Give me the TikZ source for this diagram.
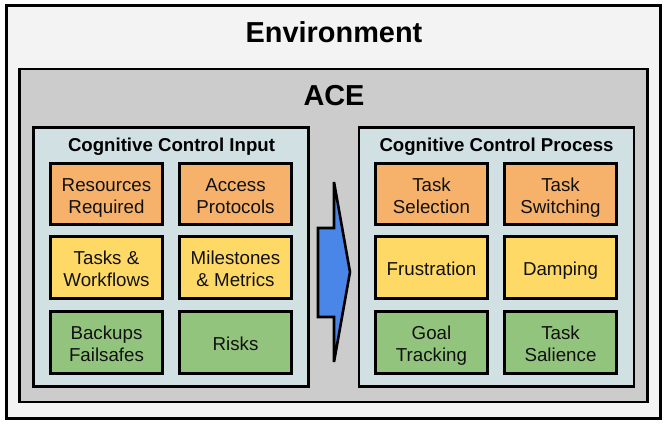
\documentclass[tikz,border=0pt]{standalone}
\usepackage{fontspec}
\setmainfont{Liberation Sans}
\definecolor{envc}{HTML}{F3F3F3}
\definecolor{acec}{HTML}{CCCCCC}
\definecolor{panelc}{HTML}{D0E0E3}
\definecolor{orangec}{HTML}{F6B26B}
\definecolor{yellowc}{HTML}{FFD966}
\definecolor{greenc}{HTML}{93C47D}
\definecolor{arrowc}{HTML}{4A86E8}
\definecolor{textc}{HTML}{111111}
\newcommand{\celltwo}[2]{\rule{0pt}{21bp}#1\\#2\rule[-4.5bp]{0pt}{4.5bp}}
\newcommand{\cellone}[1]{\rule[-4.5bp]{0pt}{25.5bp}#1}
\begin{document}
\begin{tikzpicture}[x=1bp,y=-1bp,
  frame/.style={draw=black, line width=2.9bp, inner sep=0pt},
  cell/.style={frame, minimum width=112bp, minimum height=61.5bp, align=center,
    text=textc, font=\fontsize{18.8}{22}\selectfont},
  orangecell/.style={cell, fill=orangec},
  yellowcell/.style={cell, fill=yellowc},
  greencell/.style={cell, fill=greenc},
  panel/.style={frame, fill=panelc, minimum width=275bp, minimum height=259bp},
  bigtitle/.style={font=\fontsize{29}{33}\selectfont\bfseries, inner sep=0pt},
  paneltitle/.style={font=\fontsize{18.7}{21}\selectfont\bfseries, inner sep=0pt}]
\useasboundingbox (0,0) rectangle (668,425);
% containers
\node[frame, fill=envc, minimum width=654bp, minimum height=413bp] (env) at (333.5,212) {};
\node[frame, fill=acec, minimum width=628bp, minimum height=333bp] (ace) at (333.5,235.5) {};
\node[panel] (inp) at (171,257) {};
\node[panel] (proc) at (496.5,257) {};
% titles
\node[bigtitle] (envt) at (334,32) {Environment};
\node[bigtitle] (acet) at (334,96) {ACE};
\node[paneltitle] (inpt) at (171.5,147) {Cognitive Control Input};
\node[paneltitle] (proct) at (496.5,147) {Cognitive Control Process};
% input cells
\node[orangecell] (res) at (106.5,194) {\celltwo{Resources}{Required}};
\node[orangecell] (acc) at (235.5,194) {\celltwo{Access}{Protocols}};
\node[yellowcell] (tsk) at (106.5,267.5) {\celltwo{Tasks \&}{Workflows}};
\node[yellowcell] (mil) at (235.5,267.5) {\celltwo{Milestones}{\& Metrics}};
\node[greencell] (bak) at (106.5,342.5) {\celltwo{Backups}{Failsafes}};
\node[greencell] (rsk) at (235.5,342.5) {\cellone{Risks}};
% process cells
\node[orangecell] (sel) at (431.5,194) {\celltwo{Task}{Selection}};
\node[orangecell] (swi) at (560.5,194) {\celltwo{Task}{Switching}};
\node[yellowcell] (fru) at (431.5,267.5) {\cellone{Frustration}};
\node[yellowcell] (dam) at (560.5,267.5) {\cellone{Damping}};
\node[greencell] (goa) at (431.5,342.5) {\celltwo{Goal}{Tracking}};
\node[greencell] (sal) at (560.5,342.5) {\celltwo{Task}{Salience}};
% big arrow between panels
\draw[fill=arrowc, draw=black, line width=2.6bp, line join=miter]
  (318,228) -- (334,228) -- (334,182) -- (350,272) -- (334,362) -- (334,317) -- (318,317) -- cycle;
\end{tikzpicture}
\end{document}
